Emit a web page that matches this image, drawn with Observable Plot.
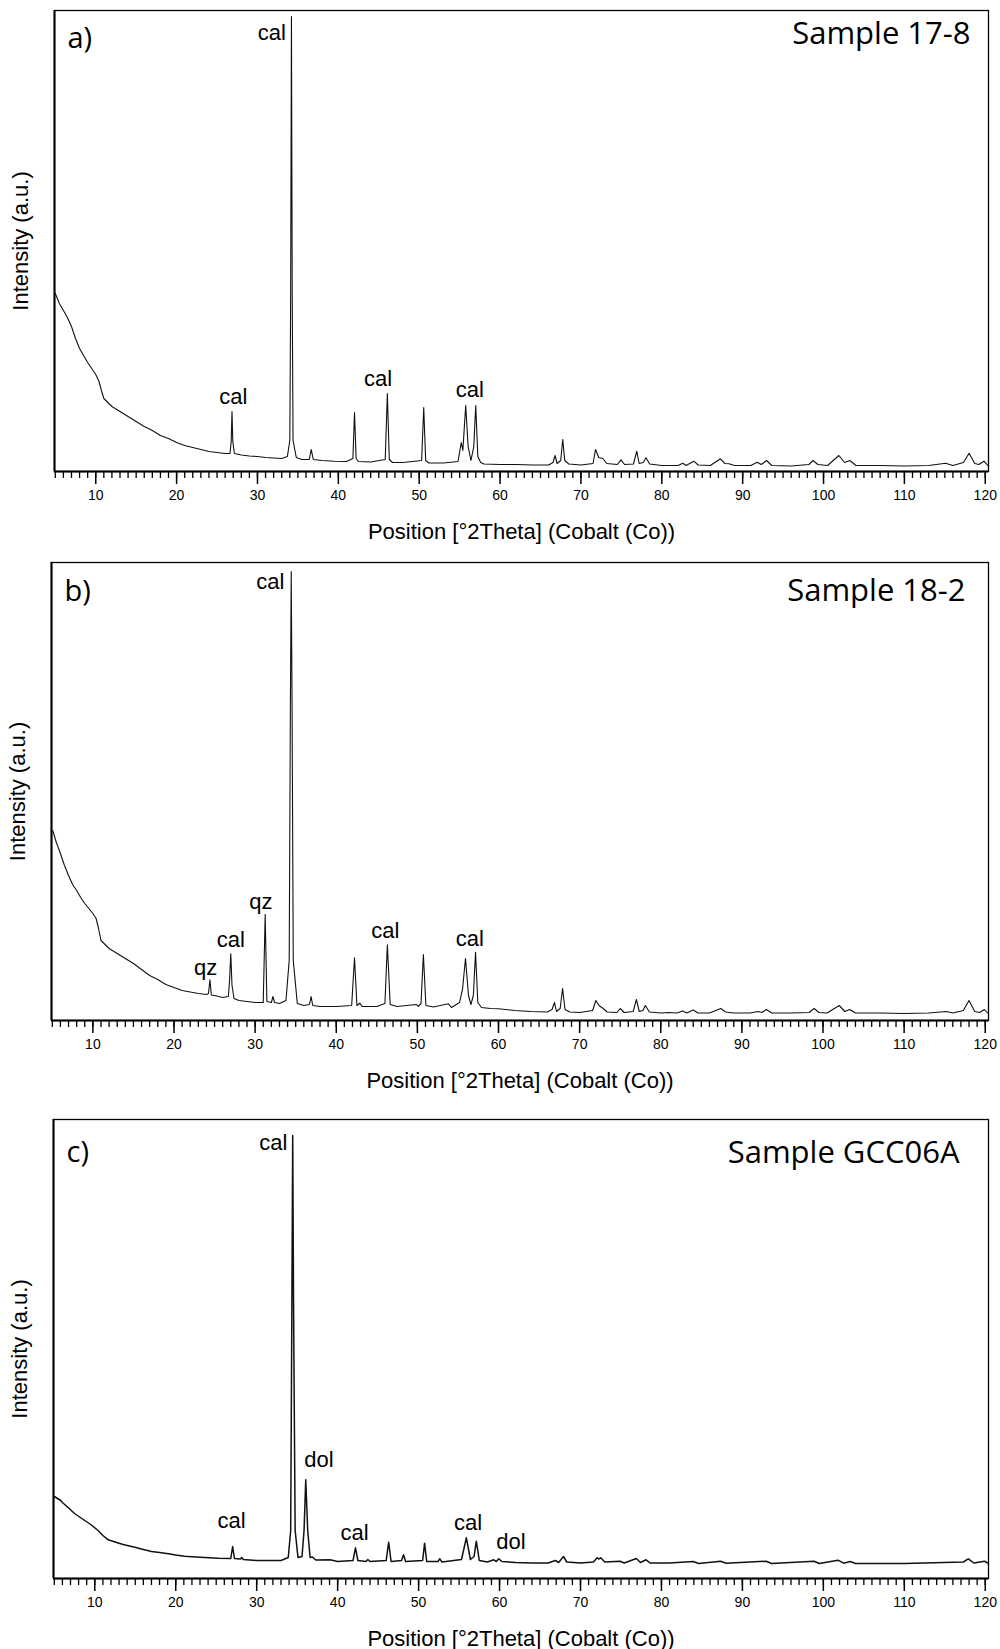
<!DOCTYPE html>
<html><head><meta charset="utf-8">
<script src="https://cdn.jsdelivr.net/npm/d3@7"></script>
<script src="https://cdn.jsdelivr.net/npm/@observablehq/plot@0.6"></script>
<style>
body{margin:0;background:#fff;}
#chart{width:1000px;}
#chart svg{display:block;}
</style></head><body><div id="chart"></div>
<script>
const xTitle = "Position [°2Theta] (Cobalt (Co))";
const yTitle = "Intensity (a.u.)";
const majorTicks = [10,20,30,40,50,60,70,80,90,100,110,120];
const minorTicks = d3.range(5, 121, 1);

// ---- a) Sample 17-8 ----
const thetaA = [5.0,5.5,6.0,6.5,7.0,7.5,8.0,8.5,9.0,9.5,10.0,10.4,10.7,11.0,11.5,12.0,13,14,15,16,17,18,19,20,21,22,23,24,25,26,26.6,26.75,26.85,26.95,27.15,28,29,30,31,32,33,33.7,34.0,34.1,34.2,34.3,34.4,34.8,35.5,36.4,36.65,36.9,38,39.5,41,41.8,42.0,42.2,42.5,44,45.8,46.06,46.3,46.7,48,50.3,50.56,50.8,51.2,53,54.8,55.2,55.4,55.75,56.05,56.4,56.75,56.99,57.25,57.6,58,60,62,64,66,66.55,66.8,67.05,67.5,67.75,68.0,68.5,70,71.5,71.8,72.2,72.7,73.2,74.5,74.95,75.4,76.5,76.9,77.2,77.7,78.05,78.5,80,82,82.6,83.0,83.95,84.5,86,87.25,87.8,88.3,89,91,91.8,92.3,92.95,93.6,96,98.2,98.7,99.3,100.5,101.9,102.6,103.25,104,107,110,113,115.1,116,117.3,118.0,118.7,119.2,119.85,120.3];
const intensityA = [178,168,161,154,145,133,123,116,109,103,97,90,81,73,69,65,60,55,50,45,41,36,33,29,26,24,22,20,19,18,18,30,60,30,18,16.5,15.5,15,14,13.5,13,15,31,171,455,171,31,14,12,12,22,12,11,10.3,10,13,59,13,10,9.5,12,78,12,9,9,11,64,11,8.5,8.5,10,29,21,66,25,11,25,66,15,9,7.5,7,7,6.5,6.5,9,16,8,11,32,11,7.5,6.5,8,22,14,13,8,7,11.7,7,7.5,20.3,8,9,13.7,7.5,6,6,8.3,6,10.3,6.5,6,12.7,8,7.7,6,6,9.3,7,11,6,5.5,7,11,7,6,16,9,11,6,6,5.5,6,8.3,6,9,18.3,8,7,10.3,6];
const peakNamesA = ["cal","cal","cal"];
const peakXA = [27.0,44.9,56.25];
const peakYA = [67.7,86,74.3];

// ---- b) Sample 18-2 ----
const thetaB = [5.05,5.5,6.0,6.5,7.0,7.5,8.0,8.5,9.0,9.5,10.0,10.4,10.7,11.0,11.5,12,13,14,15,16,17,18,19,20,21,22,23,24,24.25,24.43,24.6,25,26,26.7,26.85,27.0,27.15,27.4,28,29,30,31.0,31.24,31.45,32.0,32.2,32.4,33,33.8,34.2,34.35,34.45,34.55,34.7,35.2,36,36.7,36.9,37.1,38,40,41.9,42.25,42.55,42.9,43.2,45,46.0,46.3,46.65,47.5,49.9,50.1,50.45,50.74,51.05,52,53.83,54.2,55.2,55.57,55.93,56.3,56.6,56.9,57.17,57.45,57.9,59,60,62,64,66,66.6,66.9,67.15,67.6,67.9,68.2,68.8,70,71.6,72.0,72.4,72.9,73.4,74.6,75.0,75.5,76.6,77.0,77.35,77.8,78.1,78.6,80,81,82,82.7,83.2,84.0,84.6,86,87.4,88.0,89,91,92.0,92.5,93.0,93.7,96,98.3,98.9,99.5,100.5,102.0,102.7,103.3,104,107,110,113,115.2,116,117.3,118.0,118.7,119.3,119.9,120.3];
const intensityB = [190,178,167,155,145,136,130,123,117,112,107,102,92,80,76,72,67,62,57,51,45,41,36,33,30,28.5,27,26,27,40.7,25.5,25,23,24,40,66.7,35,22,20,19,18,18,106,19,18,24,18,17,20,60,320,449,320,60,17,15,16,24,15,14,14,15,62.7,15,17.3,14,14,17,75.7,16,14,16,14,17,66,15,13.5,16.7,13,18,31.7,62,25,16,25,68.3,18,13,12,11.7,10,9,8.5,11,18,9,12,32,11,8.5,8,10,20,15,12,8.5,8,12,8,9,21,9,10,15,8.5,7.5,8,7.5,9.5,7.5,10.5,7.5,7.5,12,8.5,7.5,7.5,9,8,11,7.5,7.5,8,12,8,7.5,15,9,11,7.5,7.5,7,7.5,9,7.5,10,20,9,8,11,7.5];
const peakNamesB = ["qz","cal","qz","cal","cal"];
const peakXB = [23.9,27.0,30.7,46.05,56.45];
const peakYB = [46,74,111.7,82.3,74.3];

// ---- c) Sample GCC06A ----
const thetaC = [5.0,5.8,6.0,6.7,7.5,8.76,9.5,10.4,11.0,11.66,12.5,13.5,14.95,16,17,18,19.1,20,21.1,23,25.3,26.8,27.03,27.25,28,28.15,28.35,30,31.45,33,33.9,34.2,34.35,34.45,34.55,34.75,35.1,35.6,35.85,36.06,36.3,36.6,36.9,37.3,39.07,40,41.9,42.2,42.5,43.5,43.73,44,46.0,46.3,46.6,47.9,48.14,48.4,50.5,50.74,51.0,52.4,52.6,52.9,55.3,55.9,56.4,56.85,57.13,57.5,58.5,59.28,59.6,59.9,60.3,62,64,66,66.9,67.3,67.9,68.3,70,71.6,72.05,72.3,72.5,73,74.9,75.4,76.9,77.4,78.1,78.6,81,83.9,84.6,87.3,88,92.95,93.6,98.85,99.5,101.8,102.5,103.3,104,110,117.3,117.9,118.6,119.9,120.3];
const intensityC = [82,78,76,71,65,58,54,48,43,38.7,36.5,34,31.3,29,27,26,24.7,23.5,22.3,21.3,20.3,20,32,20,19.5,21,19,18,18,18,21,48,278,443,278,48,21,22,48,98.7,48,21,21.5,18.5,18.7,17,18,30.7,18,17,19,17,18,36.3,17,18,23.7,17,18,35.3,17,17,19.7,16.5,19,40.7,19,22,37.3,18,16.5,18.7,17,19.7,17,16,15.5,15.5,18,16,22,16.5,15.5,16.5,20.7,19.5,20.7,16.5,17.3,15.5,20,16,18.7,15.5,15.5,17,15,17.3,15.3,17.3,15,17.3,15,18.3,15.3,17,15,15,16.5,19.7,15.5,17.3,15.5];
const peakNamesC = ["cal","dol","cal","cal","dol"];
const peakXC = [26.9,37.7,42.1,56.1,61.4];
const peakYC = [50.7,111.3,39,48.7,29.7];

const sansFont = "'Liberation Sans', Arial, Helvetica, sans-serif";
const titleFont = "'Open Sans', 'Noto Sans', sans-serif";

function panel(o) {
  const pts = o.theta.map((t, i) => ({t, v: o.intensity[i]}));
  const labels = o.names.map((n, i) => ({n, x: o.px[i], y: o.py[i]}));
  return Plot.plot({
    width: 1000, height: o.height,
    marginTop: o.mt, marginBottom: o.mb, marginLeft: o.ml, marginRight: 12,
    x: {domain: [4.9, 120.4]},
    y: {domain: [0, o.yMax], axis: null},
    style: {fontFamily: sansFont, background: "white", color: "black", overflow: "visible"},
    marks: [
      Plot.line(pts, {x: "t", y: "v", stroke: "#111", strokeWidth: o.lw}),
      Plot.frame({stroke: "black", strokeWidth: 1.3}),
      Plot.ruleY([0], {stroke: "black", strokeWidth: 2.2}),
      Plot.ruleX([4.9], {stroke: "black", strokeWidth: 2}),
      Plot.axisX(minorTicks, {tickSize: 7, tickFormat: () => "", strokeWidth: 1.3, label: null}),
      Plot.axisX(majorTicks, {tickSize: 13, tickPadding: 6, fontSize: 14, strokeWidth: 1.5, label: null}),
      Plot.text([xTitle], {text: d => d, frameAnchor: "bottom", dy: 67, lineAnchor: "bottom", textAnchor: "middle", fontSize: 22}),
      Plot.text([yTitle], {text: d => d, frameAnchor: "left", dx: -34, rotate: -90, textAnchor: "middle", lineAnchor: "middle", fontSize: 22}),
      Plot.text(labels, {x: "x", y: "y", text: "n", lineAnchor: "bottom", textAnchor: "middle", fontSize: 22}),
      Plot.text([{n: "cal", x: o.topX, y: o.topY}], {x: "x", y: "y", text: "n", textAnchor: "end", lineAnchor: "bottom", fontSize: 22}),
      Plot.text([o.letter], {text: d => d, frameAnchor: "top-left", dx: 13, dy: o.letterDy, textAnchor: "start", lineAnchor: "bottom", fontFamily: titleFont, fontSize: 29}),
      Plot.text([o.sample], {text: d => d, frameAnchor: "top-right", dx: -o.sampleDx, dy: o.sampleDy, textAnchor: "end", lineAnchor: "bottom", fontFamily: titleFont, fontSize: 31})
    ]
  });
}

const chart = document.getElementById("chart");
chart.append(panel({theta: thetaA, intensity: intensityA, names: peakNamesA, px: peakXA, py: peakYA,
  topX: 33.5, topY: 432, letter: "a)", sample: "Sample 17-8", yMax: 461,
  height: 550, mt: 10, mb: 79, ml: 54, lw: 1.1, letterDy: 37, sampleDy: 33, sampleDx: 18}));
chart.append(panel({theta: thetaB, intensity: intensityB, names: peakNamesB, px: peakXB, py: peakYB,
  topX: 33.6, topY: 431.7, letter: "b)", sample: "Sample 18-2", yMax: 458,
  height: 550, mt: 12, mb: 80, ml: 51, lw: 1.1, letterDy: 38, sampleDy: 38, sampleDx: 23}));
chart.append(panel({theta: thetaC, intensity: intensityC, names: peakNamesC, px: peakXC, py: peakYC,
  topX: 33.8, topY: 428.7, letter: "c)", sample: "Sample GCC06A", yMax: 459,
  height: 549, mt: 19, mb: 71, ml: 53, lw: 1.5, letterDy: 42, sampleDy: 43, sampleDx: 29}));
</script></body></html>
